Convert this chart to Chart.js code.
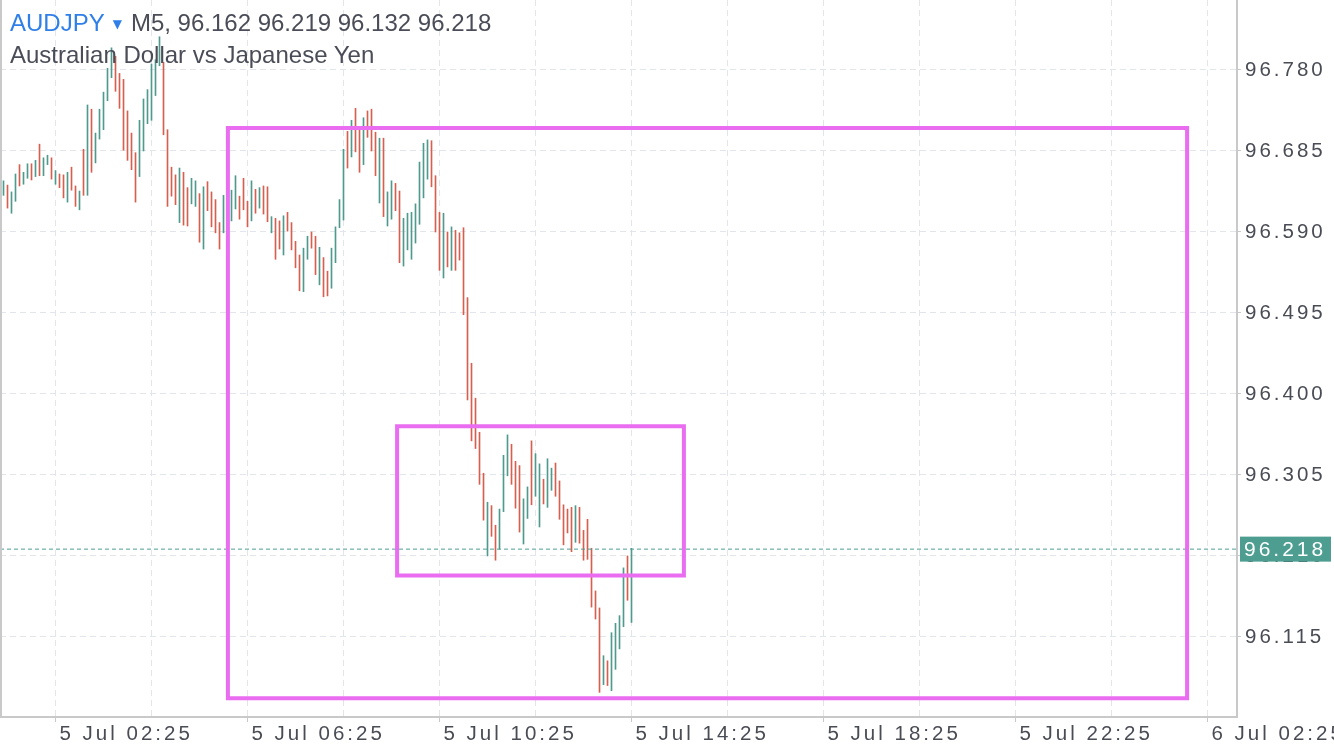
<!DOCTYPE html>
<html lang="en">
<head>
<meta charset="UTF-8">
<title>AUDJPY M5</title>
<script src="https://cdn.jsdelivr.net/npm/chart.js"></script>
<style>
  body { margin: 0; background: #fff; overflow: hidden; }
  #wrap { position: relative; width: 1334px; height: 750px; }
  #header {
    position: absolute; left: 10px; top: 8px;
    font-family: "Liberation Sans", Arial, sans-serif; font-size: 24px;
    line-height: 29.5px; color: #4a4c57; white-space: nowrap; pointer-events: none;
  }
  .sym { color: #2f7fe9; }
  .tri { color: #2f7fe9; font-family: "DejaVu Sans", sans-serif; font-size: 12px; vertical-align: 3px; margin: 0 9px 0 8px; }
</style>
</head>
<body>
<div id="wrap">
  <canvas id="chart" width="1334" height="750"></canvas>
  <div id="header">
    <div><span class="sym">AUDJPY</span><span class="tri">▼</span>M5, 96.162 96.219 96.132 96.218</div>
    <div>Australian Dollar vs Japanese Yen</div>
  </div>
</div>
<script>
// 5 minute bars, first bar at 5 Jul 01:20
const highs = [
  96.650, 96.645, 96.637, 96.658, 96.669, 96.660, 96.670, 96.670, 96.674, 96.693,
  96.677, 96.680, 96.677, 96.662, 96.658, 96.657, 96.660, 96.666, 96.644, 96.638,
  96.687, 96.739, 96.734, 96.706, 96.734, 96.754, 96.782, 96.806, 96.796, 96.776,
  96.769, 96.732, 96.706, 96.683, 96.721, 96.746, 96.757, 96.787, 96.792, 96.819,
  96.789, 96.710, 96.666, 96.657, 96.665, 96.660, 96.642, 96.653, 96.650, 96.635,
  96.643, 96.649, 96.637, 96.628, 96.601, 96.633, 96.637, 96.639, 96.656, 96.632,
  96.653, 96.626, 96.650, 96.640, 96.642, 96.644, 96.643, 96.608, 96.606, 96.603,
  96.609, 96.613, 96.601, 96.579, 96.563, 96.571, 96.585, 96.590, 96.585, 96.572,
  96.560, 96.544, 96.571, 96.596, 96.628, 96.687, 96.708, 96.721, 96.735, 96.713,
  96.724, 96.732, 96.734, 96.707, 96.700, 96.700, 96.637, 96.650, 96.647, 96.638,
  96.606, 96.612, 96.613, 96.623, 96.672, 96.694, 96.698, 96.697, 96.656, 96.613,
  96.612, 96.590, 96.596, 96.592, 96.589, 96.595, 96.513, 96.436, 96.395, 96.355,
  96.307, 96.273, 96.269, 96.246, 96.265, 96.328, 96.352, 96.341, 96.321, 96.316,
  96.277, 96.291, 96.345, 96.330, 96.318, 96.300, 96.324, 96.313, 96.319, 96.298,
  96.270, 96.265, 96.267, 96.269, 96.267, 96.240, 96.253, 96.219, 96.169, 96.149,
  96.093, 96.087, 96.120, 96.131, 96.140, 96.196, 96.210, 96.219
];
const lows = [
  96.633, 96.618, 96.612, 96.626, 96.644, 96.646, 96.653, 96.651, 96.655, 96.656,
  96.656, 96.669, 96.652, 96.646, 96.642, 96.630, 96.625, 96.639, 96.620, 96.616,
  96.633, 96.633, 96.660, 96.671, 96.699, 96.710, 96.744, 96.771, 96.755, 96.735,
  96.686, 96.674, 96.663, 96.625, 96.655, 96.685, 96.717, 96.721, 96.750, 96.785,
  96.704, 96.620, 96.632, 96.622, 96.601, 96.598, 96.597, 96.623, 96.620, 96.578,
  96.570, 96.615, 96.596, 96.589, 96.570, 96.589, 96.611, 96.603, 96.617, 96.605,
  96.616, 96.596, 96.603, 96.612, 96.618, 96.611, 96.602, 96.589, 96.558, 96.570,
  96.563, 96.591, 96.569, 96.548, 96.521, 96.520, 96.558, 96.571, 96.540, 96.528,
  96.514, 96.515, 96.524, 96.554, 96.595, 96.604, 96.665, 96.678, 96.684, 96.660,
  96.669, 96.701, 96.685, 96.656, 96.624, 96.608, 96.597, 96.605, 96.615, 96.554,
  96.550, 96.569, 96.558, 96.577, 96.599, 96.630, 96.652, 96.643, 96.590, 96.545,
  96.536, 96.549, 96.545, 96.545, 96.557, 96.493, 96.393, 96.345, 96.336, 96.294,
  96.252, 96.210, 96.233, 96.205, 96.218, 96.262, 96.304, 96.294, 96.266, 96.238,
  96.224, 96.254, 96.270, 96.280, 96.244, 96.271, 96.267, 96.287, 96.280, 96.253,
  96.223, 96.237, 96.215, 96.226, 96.225, 96.205, 96.206, 96.150, 96.136, 96.050,
  96.059, 96.058, 96.052, 96.077, 96.101, 96.127, 96.158, 96.132
];
// 1 = bar closed higher than it opened
const ups = [
  1, 0, 1, 1, 0, 1, 1, 0, 1, 0,
  1, 1, 0, 1, 0, 0, 1, 0, 0, 1,
  0, 1, 0, 1, 1, 1, 1, 1, 0, 0,
  0, 0, 0, 0, 1, 1, 1, 1, 1, 1,
  0, 0, 0, 0, 1, 0, 0, 1, 1, 0,
  1, 0, 0, 0, 0, 1, 0, 1, 1, 0,
  0, 0, 1, 0, 1, 0, 0, 1, 0, 0,
  1, 0, 0, 0, 0, 1, 1, 0, 0, 1,
  0, 0, 1, 1, 1, 1, 0, 1, 0, 0,
  1, 0, 0, 0, 1, 0, 1, 1, 0, 0,
  1, 1, 1, 1, 1, 1, 1, 0, 0, 0,
  1, 0, 1, 0, 0, 0, 0, 0, 0, 0,
  0, 1, 0, 0, 1, 1, 1, 0, 0, 0,
  1, 1, 0, 1, 1, 0, 1, 1, 0, 0,
  0, 0, 0, 1, 0, 0, 0, 0, 0, 0,
  1, 0, 1, 1, 1, 1, 0, 1
];
const xTickLabels = ['5 Jul 02:25', '5 Jul 06:25', '5 Jul 10:25', '5 Jul 14:25', '5 Jul 18:25', '5 Jul 22:25', '6 Jul 02:25'];
const yTicks = [96.115, 96.210, 96.305, 96.400, 96.495, 96.590, 96.685, 96.780];
const lastPrice = 96.218;
// drawn rectangles, in bar index / price
const bigBox = { from: 56.1, to: 295.9, top: 96.712, bottom: 96.043 };
const smallBox = { from: 98.4, to: 170.1, top: 96.362, bottom: 96.187 };

const firstLabelBar = 13;   // bar of 5 Jul 02:25
const xMin = -0.875, xMax = 308.375;
const yMin = 96.0211, yMax = 96.8621;

const GREEN = '#4f9a8b', RED = '#d5604f', PINK = '#ea6cf1', TEAL = '#4d9e91';
const AXIS = '#c9c9c9', GRID = '#e2e6ec', TEXT = '#4a4c55';

const gridBars = [];
for (let b = firstLabelBar; b <= xMax; b += 24) gridBars.push(b);
const isLabelBar = v => (v - firstLabelBar) % 48 === 0;

const boxPath = b => [
  { x: b.from, y: b.top }, { x: b.to, y: b.top }, { x: b.to, y: b.bottom },
  { x: b.from, y: b.bottom }, { x: b.from, y: b.top }
];

const spacing = {
  id: 'spacing',
  beforeDraw(chart) { chart.ctx.letterSpacing = '3px'; },
  beforeDatasetsDraw(chart) { chart.ctx.letterSpacing = '0px'; }
};

const extras = {
  id: 'extras',
  afterDraw(chart) {
    const { ctx, chartArea } = chart;
    ctx.save();
    ctx.strokeStyle = AXIS;
    ctx.lineWidth = 2;
    ctx.beginPath();
    ctx.moveTo(1, chartArea.top);
    ctx.lineTo(1, chartArea.bottom);
    ctx.stroke();
    const y = chart.scales.y.getPixelForValue(lastPrice);
    ctx.fillStyle = TEAL;
    ctx.fillRect(chartArea.right + 3, y - 12.5, 91, 25);
    ctx.fillStyle = '#fff';
    ctx.font = '21px "Liberation Sans", Arial, sans-serif';
    ctx.textBaseline = 'middle';
    ctx.letterSpacing = '3px';
    ctx.fillText(lastPrice.toFixed(3), chartArea.right + 7, y + 1);
    ctx.restore();
  }
};

const labelFont = { family: '"Liberation Sans", Arial, sans-serif', size: 20.5 };

new Chart(document.getElementById('chart'), {
  type: 'bar',
  data: {
    datasets: [
      { type: 'line', data: boxPath(bigBox), borderColor: PINK, borderWidth: 4, pointRadius: 0,
        fill: false, tension: 0, borderJoinStyle: 'miter', borderCapStyle: 'square' },
      { type: 'line', data: boxPath(smallBox), borderColor: PINK, borderWidth: 4, pointRadius: 0,
        fill: false, tension: 0, borderJoinStyle: 'miter', borderCapStyle: 'square' },
      { type: 'line', data: [{ x: xMin, y: lastPrice }, { x: xMax, y: lastPrice }],
        borderColor: TEAL, borderWidth: 1, borderDash: [4, 3], pointRadius: 0, fill: false },
      { type: 'bar', data: highs.map((h, i) => ({ x: i, y: [lows[i], h] })),
        backgroundColor: ups.map(u => u ? GREEN : RED), borderWidth: 0, barThickness: 1 }
    ]
  },
  options: {
    responsive: false,
    animation: false,
    devicePixelRatio: 1,
    layout: { padding: 0 },
    plugins: { legend: { display: false }, tooltip: { enabled: false } },
    scales: {
      x: {
        type: 'linear', min: xMin, max: xMax, offset: false,
        afterBuildTicks: s => { s.ticks = gridBars.map(v => ({ value: v })); },
        afterFit: s => { s.height = 33; s.paddingLeft = 0; s.paddingRight = 0; },
        ticks: {
          autoSkip: false, maxRotation: 0, align: 'start', labelOffset: 4, padding: 0,
          color: TEXT, font: labelFont,
          callback: v => isLabelBar(v) ? xTickLabels[(v - firstLabelBar) / 48] : ''
        },
        grid: {
          offset: false, color: GRID, lineWidth: 1, tickLength: 5, tickWidth: 1,
          tickColor: c => (c.tick && isLabelBar(c.tick.value)) ? AXIS : 'rgba(0,0,0,0)'
        },
        border: { color: AXIS, width: 2, dash: [6, 4] }
      },
      y: {
        position: 'right', min: yMin, max: yMax,
        afterBuildTicks: s => { s.ticks = yTicks.map(v => ({ value: v })); },
        afterFit: s => { s.width = 97; s.paddingTop = 0; s.paddingBottom = 0; },
        ticks: { padding: 4, color: TEXT, font: labelFont, callback: v => v.toFixed(3) },
        grid: { color: GRID, lineWidth: 1, tickLength: 4, tickColor: AXIS },
        border: { color: AXIS, width: 2, dash: [6, 4] }
      }
    }
  },
  plugins: [spacing, extras]
});
</script>
</body>
</html>
